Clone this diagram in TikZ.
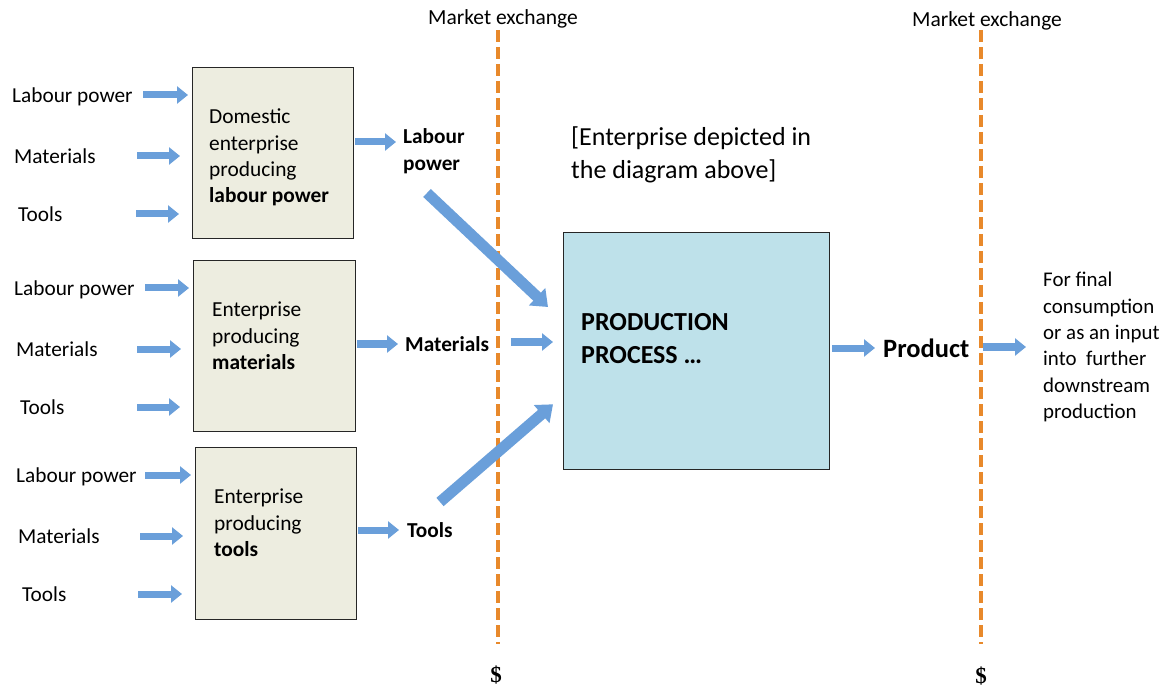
\documentclass[tikz,border=0pt]{standalone}
\usepackage{fontspec}
\setmainfont{Carlito}
\newfontfamily\dollarfont{Liberation Serif}
\usetikzlibrary{arrows.meta}

\definecolor{boxfill}{HTML}{EDEDE0}
\definecolor{procfill}{HTML}{BEE1EA}
\definecolor{flowblue}{HTML}{6A9FDA}
\definecolor{marketorange}{HTML}{E8892B}

\tikzset{
  lbl/.style={font=\fontsize{21.3}{25}\selectfont, inner sep=0pt, anchor=west},
  boldlbl/.style={font=\fontsize{21.3}{27}\selectfont\bfseries, inner sep=0pt, anchor=west, align=left},
  boxtext/.style={font=\fontsize{21.4}{26.3}\selectfont, inner sep=0pt, anchor=north west, align=left},
  entbox/.style={draw=black!85, line width=1.3pt, fill=boxfill},
  procbox/.style={draw=black!85, line width=1.3pt, fill=procfill},
  flow/.style={draw=flowblue, line width=7pt, -{Triangle[length=11pt,width=17pt]}},
  bigflow/.style={draw=flowblue, line width=11pt, -{Triangle[length=15pt,width=23pt]}},
  market/.style={draw=marketorange, line width=4.2pt, dash pattern=on 12pt off 5pt},
  marketlbl/.style={font=\fontsize{21.5}{24}\selectfont, inner sep=0pt},
  dollar/.style={font=\fontsize{23}{24}\selectfont\dollarfont\bfseries, inner sep=0pt, anchor=base}
}

\begin{document}
\begin{tikzpicture}[x=1pt,y=-1pt]
\useasboundingbox (0,0) rectangle (1171,687);

% market exchange boundaries
\coordinate (m1top) at (498,30);
\coordinate (m1bot) at (498,644);
\coordinate (m2top) at (981,30);
\coordinate (m2bot) at (981,644);
\draw[market] (m1top) -- (m1bot);
\draw[market] (m2top) -- (m2bot);
\node[marketlbl] (mx1) at (503,19) {Market exchange};
\node[marketlbl] (mx2) at (987,21) {Market exchange};
\node[dollar] (d1) at (496,682) {\$};
\node[dollar] (d2) at (981,683) {\$};

% supplying enterprises
\node[entbox, minimum width=161pt, minimum height=171pt, anchor=north west] (b1) at (192,67) {};
\node[entbox, minimum width=162pt, minimum height=171pt, anchor=north west] (b2) at (193,260) {};
\node[entbox, minimum width=161pt, minimum height=172pt, anchor=north west] (b3) at (195,447) {};

\node[boxtext] (t1) at (209,109) {Domestic\\enterprise\\producing\\\textbf{labour power}};
\node[boxtext] (t2) at (212,302) {Enterprise\\producing\\\textbf{materials}};
\node[boxtext] (t3) at (214,489) {Enterprise\\producing\\\textbf{tools}};

% inputs of each enterprise
\foreach \r/\y/\lx/\ax in {1/95/12/143, 2/288/14/145, 3/475/16/145}{
  \node[lbl] (lp\r) at (\lx,\y+2) {Labour power};
  \coordinate (lpa\r) at (\ax,\y);
  \draw[flow] (lpa\r) -- ([xshift=-4pt]b\r.west |- lpa\r);
}
\foreach \r/\y/\lx/\ax in {1/156/14/137, 2/349/16/137, 3/536/18/140}{
  \node[lbl] (ma\r) at (\lx,\y) {Materials};
  \coordinate (maa\r) at (\ax,\y);
  \draw[flow] (maa\r) -- ([xshift=-12pt]b\r.west |- maa\r);
}
\foreach \r/\y/\lx/\ax in {1/214/18/136, 2/407/20/137, 3/594/22/138}{
  \node[lbl] (to\r) at (\lx,\y) {Tools};
  \coordinate (toa\r) at (\ax,\y);
  \draw[flow] (toa\r) -- ([xshift=-13pt]b\r.west |- toa\r);
}

% outputs of the supplying enterprises
\node[boldlbl, anchor=north west] (olp) at (403,128) {Labour\\power};
\node[boldlbl] (oma) at (405,344) {Materials};
\node[boldlbl] (oto) at (407,530) {Tools};
\draw[flow] ([xshift=1pt]b1.east |- 0,142) -- (396,142);
\draw[flow] ([xshift=1pt]b2.east |- oma) -- ([xshift=-7pt]oma.west);
\draw[flow] ([xshift=1pt]b3.east |- oto) -- ([xshift=-8pt]oto.west);

% the enterprise under study
\node[font=\fontsize{26}{33}\selectfont, inner sep=0pt, anchor=north west, align=left] (note) at (571,127) {[Enterprise depicted in\\the diagram above]};
\node[procbox, minimum width=266pt, minimum height=237pt, anchor=north west] (proc) at (563,232) {};
\node[font=\fontsize{26}{33}\selectfont\bfseries, inner sep=0pt, anchor=north west, align=left] (ptext) at (581,313) {PRODUCTION\\PROCESS …};

% flows into production
\coordinate (lpstart) at (427,193);
\coordinate (tostart) at (440,502);
\draw[bigflow] (lpstart) -- ([xshift=-15pt,yshift=-75pt]proc.north west);
\draw[flow] (511,342) -- ([xshift=-10pt]proc.west |- 0,342);
\draw[bigflow] (tostart) -- ([xshift=-10pt,yshift=66pt]proc.south west);

% product
\node[font=\fontsize{26.5}{30}\selectfont\bfseries, inner sep=0pt, anchor=west] (prod) at (883,348) {Product};
\draw[flow] ([xshift=2pt]proc.east |- prod) -- ([xshift=-8pt]prod.west);
\node[font=\fontsize{20.9}{26.4}\selectfont, inner sep=0pt, anchor=north west, align=left] (use) at (1043,272) {For final\\consumption\\or as an input\\into~~further\\downstream\\production};
\coordinate (usearrow) at (1026,347);
\draw[flow] (983,347) -- (usearrow);
\end{tikzpicture}
\end{document}
